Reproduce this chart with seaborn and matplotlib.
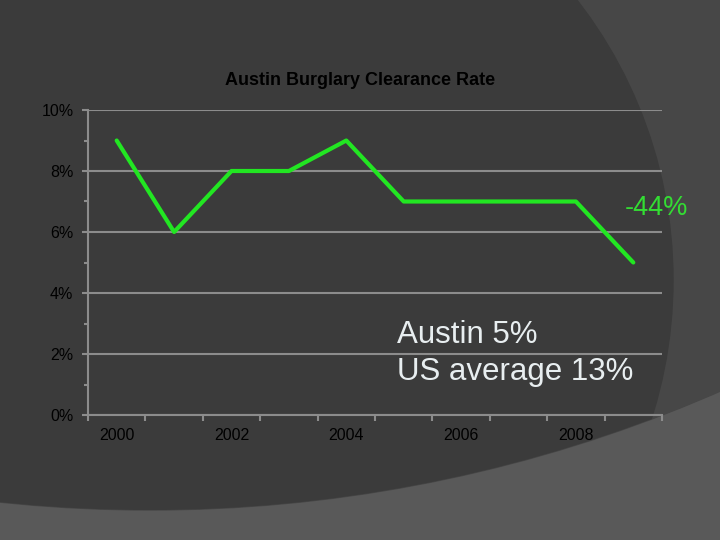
import seaborn as sns
import matplotlib.pyplot as plt
import matplotlib.patches as mpatches
from matplotlib.ticker import PercentFormatter, FixedLocator
import pandas as pd

# data
years = [2000, 2001, 2002, 2003, 2004, 2005, 2006, 2007, 2008, 2009]
clearance_rate = [0.09, 0.06, 0.08, 0.08, 0.09, 0.07, 0.07, 0.07, 0.07, 0.05]
shown_years = [2000, 2002, 2004, 2006, 2008]
title = "Austin Burglary Clearance Rate"
change_note = "-44%"
compare_note = "Austin 5%\nUS average 13%"

sns.set_style("white")
plt.rcParams['font.family'] = ['Liberation Sans', 'DejaVu Sans']

df = pd.DataFrame({"pos": range(len(years)), "rate": clearance_rate})

fig = plt.figure(figsize=(7.2, 5.4), dpi=100)

# slide background with the curved shapes
bg = fig.add_axes([0, 0, 1, 1])
bg.set_xlim(0, 720)
bg.set_ylim(540, 0)
bg.axis("off")
bg.add_patch(mpatches.Rectangle((0, 0), 720, 540, color="#595959", zorder=0))
upper = mpatches.Ellipse((150, -760), 2700, 2540, color="#474747", zorder=1)
bg.add_patch(upper)
dark = mpatches.Circle((217, 280), 456, color="#3b3b3b", zorder=2)
bg.add_patch(dark)
dark.set_clip_path(upper)

ax = fig.add_axes([88 / 720, 1 - 415 / 540, 574 / 720, 305 / 540])
ax.set_facecolor("none")

sns.lineplot(data=df, x="pos", y="rate", ax=ax, color="#22e622",
             linewidth=3, solid_capstyle="round", zorder=3)

ax.set_xlim(-0.5, len(years) - 0.5)
ax.set_ylim(0, 0.10)
ax.set_xlabel("")
ax.set_ylabel("")

grid_col = "#8c8c8c"
ax.yaxis.set_major_locator(FixedLocator([0, 0.02, 0.04, 0.06, 0.08, 0.10]))
ax.yaxis.set_minor_locator(FixedLocator([0.01, 0.03, 0.05, 0.07, 0.09]))
ax.yaxis.set_major_formatter(PercentFormatter(1.0, decimals=0))
ax.grid(axis="y", which="major", color=grid_col, linewidth=1.5)
ax.grid(axis="x", visible=False)

# category boundaries carry the tick marks, labels sit in the middle
ax.xaxis.set_major_locator(FixedLocator([i - 0.5 for i in range(len(years) + 1)]))
ax.set_xticklabels([])
ax.set_xticks([years.index(y) for y in shown_years], minor=True)
ax.set_xticklabels([str(y) for y in shown_years], minor=True)

ax.tick_params(axis="x", which="major", length=4, width=1.5, color=grid_col,
               direction="out", bottom=True)
ax.tick_params(axis="x", which="minor", length=0, pad=9, labelsize=11.5,
               labelcolor="#000000")
ax.tick_params(axis="y", which="major", length=4.5, width=1.5, color=grid_col,
               direction="out", left=True, pad=6, labelsize=11.5,
               labelcolor="#000000")
ax.tick_params(axis="y", which="minor", length=3, width=1.5, color=grid_col,
               direction="out", left=True)

for side in ["top", "right"]:
    ax.spines[side].set_visible(False)
for side in ["left", "bottom"]:
    ax.spines[side].set_color(grid_col)
    ax.spines[side].set_linewidth(1.5)

ax.set_title(title, fontsize=13, fontweight="bold", color="#000000", pad=18,
             x=(360 - 88) / 574)

ax.text(9.41, 0.0679, change_note, color="#33dd33", fontsize=19.5,
        ha="center", va="center")
ax.text(4.88, 0.0203, compare_note, color="#e8eef0", fontsize=22.5,
        ha="left", va="center", linespacing=1.3)

plt.savefig("out.png", dpi=100)
plt.close()
